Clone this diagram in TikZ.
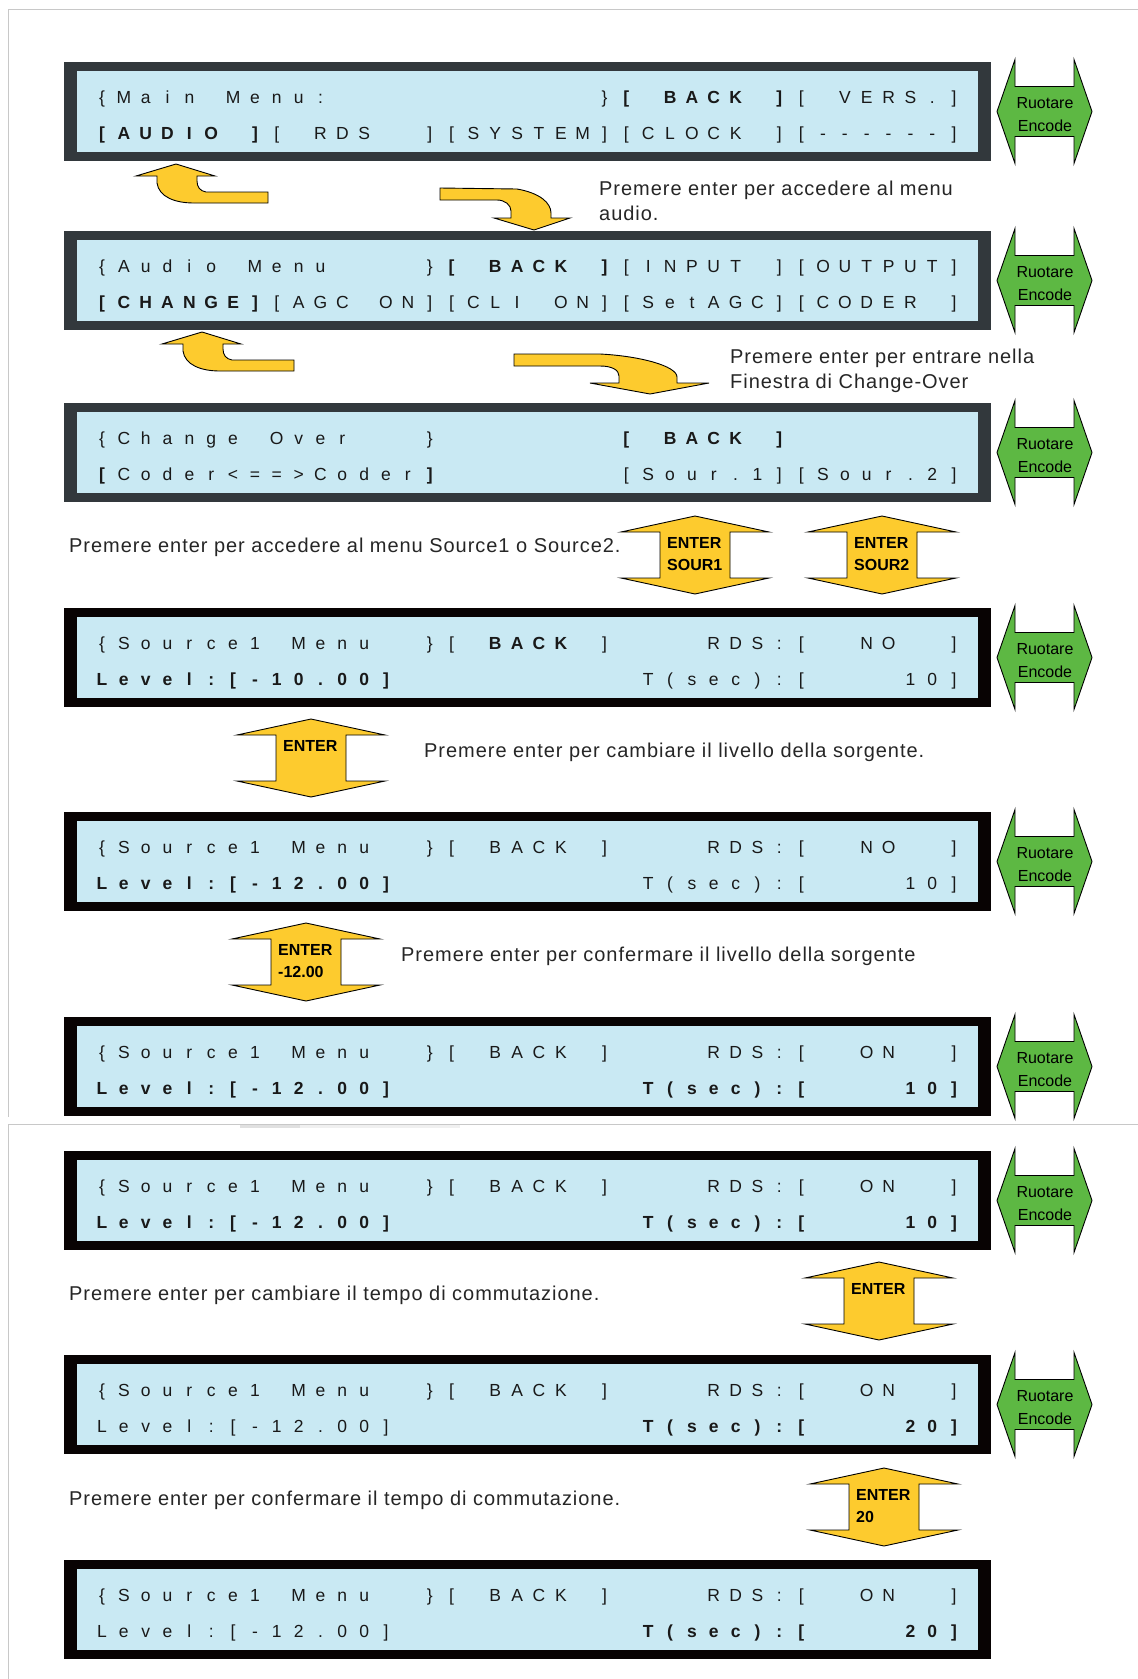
\documentclass[tikz,border=0pt]{standalone}
\usepackage{fontspec}
\setmainfont{Liberation Sans}
\newfontfamily\notefont[LetterSpace=4.8]{Liberation Sans}
\definecolor{lcdblue}{HTML}{C9E9F3}
\definecolor{darkframe}{HTML}{32383C}
\definecolor{blackframe}{HTML}{080303}
\definecolor{arrowyellow}{HTML}{FDCB2E}
\definecolor{encgreen}{HTML}{5DB843}
\definecolor{pageline}{HTML}{C8C8C8}

\newcount\lcdcol
\newif\iflcdbold
\def\lcdB{LCDBOLDMARK}
\def\lcdend{LCDENDMARK}
\def\lcdtoggle{\iflcdbold\lcdboldfalse\else\lcdboldtrue\fi}
\newcommand\lcdput[1]{%
  \pgfmathsetmacro\lcdx{102+\the\lcdcol*21.85}%
  \node[lcdch,name=\lcdname-\the\lcdcol] at (\lcdx,\lcdy) {\iflcdbold\bfseries\fi#1};}
\def\lcdloop#1{%
  \ifx#1\lcdend\let\lcdnext\relax\else\let\lcdnext\lcdloop
    \ifx#1\lcdB\lcdtoggle\else
      \ifx#1_\else\lcdput{#1}\fi
      \global\advance\lcdcol by 1\relax
    \fi
  \fi\lcdnext}
\newcommand\lcdrow[3]{\def\lcdy{#2}\def\lcdname{#1}\global\lcdcol=0\relax\lcdboldfalse\lcdloop#3\lcdend}

% screen: name, top y, frame colour
\newcommand\lcdscreen[3]{%
  \node[scrouter,fill=#3] (#1) at (527.5,#2+49.5) {};
  \node[scrinner] (#1in) at (527.25,#2+49.5) {};}
% rotary encoder double arrow: name, centre y
\newcommand\encoder[2]{%
  \draw[encshape] (997,#2) -- (1015,#2-52) -- (1015,#2-25) -- (1074,#2-25) -- (1074,#2-52)
    -- (1092,#2) -- (1074,#2+52) -- (1074,#2+25) -- (1015,#2+25) -- (1015,#2+52) -- cycle;
  \node[enctext] (#1a) at (1045,#2-3) {Ruotare};
  \node[enctext] (#1b) at (1045,#2+20) {Encode};}
% vertical double ENTER arrow: name, cx, cy, line1, line2
\newcommand\dblarrow[5]{%
  \draw[yarrow] (#2,#3-39) -- (#2+74,#3-23) -- (#2+35,#3-23) -- (#2+35,#3+23) -- (#2+74,#3+23)
    -- (#2,#3+39) -- (#2-74,#3+23) -- (#2-35,#3+23) -- (#2-35,#3-23) -- (#2-74,#3-23) -- cycle;
  \node[arrtext] (#1a) at (#2-28,#3-7) {#4};
  \node[arrtext] (#1b) at (#2-28,#3+15) {#5};}

\tikzset{
  lcdch/.style={anchor=base,inner sep=0pt,outer sep=0pt,text=black!90,
    font=\fontsize{17.5}{20}\selectfont},
  scrouter/.style={rectangle,inner sep=0pt,minimum width=927pt,minimum height=99pt,draw=none},
  scrinner/.style={rectangle,inner sep=0pt,minimum width=901.5pt,minimum height=81pt,fill=lcdblue,draw=none},
  encshape/.style={fill=encgreen,draw=black,line width=0.9pt,line join=miter},
  enctext/.style={anchor=base,inner sep=0pt,font=\fontsize{16}{19}\selectfont},
  yarrow/.style={fill=arrowyellow,draw=black,line width=0.9pt,line join=miter},
  arrtext/.style={anchor=base west,inner sep=0pt,font=\fontsize{16}{19}\selectfont\bfseries},
  note/.style={anchor=base west,inner sep=0pt,text=black!85,font=\notefont\fontsize{20}{25}\selectfont},
  frameline/.style={draw=pageline,line width=1.5pt}
}

\begin{document}
\begin{tikzpicture}[x=1pt,y=-1pt]
\useasboundingbox[fill=white] (0,0) rectangle (1138,1679);

% page frames
\draw[frameline] (1138,9.3) -- (8.4,9.3) -- (8.4,1117);
\draw[frameline] (1138,1124.3) -- (8.4,1124.3) -- (8.4,1679);
\fill[black!6] (240,1124.8) rectangle (460,1127.5);
\fill[black!12] (240,1124.8) rectangle (300,1127.5);

% screens
\lcdscreen{s1}{62}{darkframe}
\lcdscreen{s2}{231}{darkframe}
\lcdscreen{s3}{403}{darkframe}
\lcdscreen{s4}{608}{blackframe}
\lcdscreen{s5}{812}{blackframe}
\lcdscreen{s6}{1017}{blackframe}
\lcdscreen{s7}{1151}{blackframe}
\lcdscreen{s8}{1355}{blackframe}
\lcdscreen{s9}{1560}{blackframe}

% screen texts
\lcdrow{s1a}{103.5}{\{Main_Menu:____________\}\lcdB[_BACK_]\lcdB[_VERS.]}
\lcdrow{s1b}{139}{\lcdB[AUDIO_]\lcdB[_RDS__][SYSTEM][CLOCK_][------]}
\lcdrow{s2a}{272.5}{\{Audio_Menu____\}\lcdB[_BACK_]\lcdB[INPUT_][OUTPUT]}
\lcdrow{s2b}{308}{\lcdB[CHANGE]\lcdB[AGC_ON][CLI_ON][SetAGC][CODER_]}
\lcdrow{s3a}{444.5}{\{Change_Over___\}________\lcdB[_BACK_]}
\lcdrow{s3b}{480}{\lcdB[\lcdB Coder<==>Coder\lcdB]\lcdB ________[Sour.1][Sour.2]}
\lcdrow{s4a}{649.5}{\{Source1_Menu__\}[_\lcdB BACK\lcdB _]____RDS:[__NO__]}
\lcdrow{s4b}{685}{\lcdB Level:[-10.00]\lcdB ___________T(sec):[____10]}
\lcdrow{s5a}{853.5}{\{Source1_Menu__\}[_BACK_]____RDS:[__NO__]}
\lcdrow{s5b}{889}{\lcdB Level:[-12.00]\lcdB ___________T(sec):[____10]}
\lcdrow{s6a}{1058.5}{\{Source1_Menu__\}[_BACK_]____RDS:[__ON__]}
\lcdrow{s6b}{1094}{\lcdB Level:[-12.00]___________T(sec):[____10]}
\lcdrow{s7a}{1192.5}{\{Source1_Menu__\}[_BACK_]____RDS:[__ON__]}
\lcdrow{s7b}{1228}{\lcdB Level:[-12.00]___________T(sec):[____10]}
\lcdrow{s8a}{1396.5}{\{Source1_Menu__\}[_BACK_]____RDS:[__ON__]}
\lcdrow{s8b}{1432}{Level:[-12.00]___________\lcdB T(sec):[____20]}
\lcdrow{s9a}{1601.5}{\{Source1_Menu__\}[_BACK_]____RDS:[__ON__]}
\lcdrow{s9b}{1637}{Level:[-12.00]___________\lcdB T(sec):[____20]}

% rotary encoders
\encoder{e1}{111.5}
\encoder{e2}{280.5}
\encoder{e3}{452.5}
\encoder{e4}{657.5}
\encoder{e5}{861.5}
\encoder{e6}{1066.5}
\encoder{e7}{1200.5}
\encoder{e8}{1404.5}

% turn arrows
\draw[yarrow] (268,192) -- (206,192) .. controls (200,191) and (197,187) .. (197,181)
  -- (197,176) -- (215,176) -- (176,164) -- (136,176) -- (157,176) -- (157,183)
  .. controls (159,197) and (175,203) .. (194,203) -- (268,203) -- cycle;
\draw[yarrow] (440,188) -- (517,189) .. controls (540,193) and (551,203) .. (551,213)
  -- (551,218) -- (570,218) -- (534,230) -- (494,218) -- (511,218) -- (511,211)
  .. controls (511,205) and (505,200) .. (497,200) -- (440,200) -- cycle;
\begin{scope}[shift={(26,168)}]
\draw[yarrow] (268,192) -- (206,192) .. controls (200,191) and (197,187) .. (197,181)
  -- (197,176) -- (215,176) -- (176,164) -- (136,176) -- (157,176) -- (157,183)
  .. controls (159,197) and (175,203) .. (194,203) -- (268,203) -- cycle;
\end{scope}
\draw[yarrow] (514,354) -- (600,354) .. controls (640,356) and (677,366) .. (677,377)
  -- (677,383) -- (709,383) -- (650,394) -- (590,383) -- (619,383) -- (619,376)
  .. controls (619,370) and (612,366) .. (600,366) -- (514,366) -- cycle;

% ENTER arrows
\dblarrow{a1}{695}{555}{ENTER}{SOUR1}
\dblarrow{a2}{882}{555}{ENTER}{SOUR2}
\dblarrow{a3}{311}{758}{ENTER}{}
\dblarrow{a4}{306}{962}{ENTER}{-12.00}
\dblarrow{a5}{879}{1301}{ENTER}{}
\dblarrow{a6}{884}{1507}{ENTER}{20}

% notes
\node[note] (n1) at (599,195) {Premere enter per accedere al menu};
\node[note] (n1b) at (599,220) {audio.};
\node[note] (n2) at (730,363) {Premere enter per entrare nella};
\node[note] (n2b) at (730,388) {Finestra di Change-Over};
\node[note] (n3) at (69,552) {Premere enter per accedere al menu Source1 o Source2.};
\node[note] (n4) at (424,757) {Premere enter per cambiare il livello della sorgente.};
\node[note] (n5) at (401,961) {Premere enter per confermare il livello della sorgente};
\node[note] (n6) at (69,1300) {Premere enter per cambiare il tempo di commutazione.};
\node[note] (n7) at (69,1505) {Premere enter per confermare il tempo di commutazione.};
\end{tikzpicture}
\end{document}
